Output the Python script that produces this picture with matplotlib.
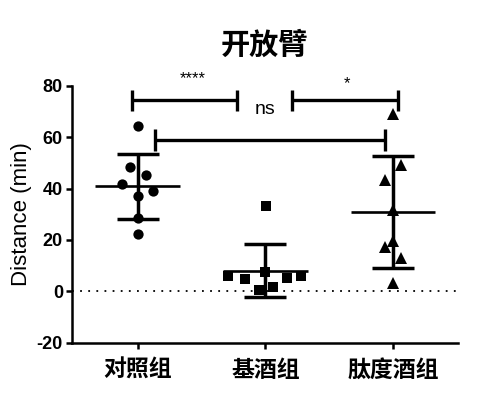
import numpy as np
import matplotlib
matplotlib.use('Agg')
import matplotlib.pyplot as plt

# data (Distance in min, 8 animals per group)
groups = ['对照组', '基酒组', '肽度酒组']
control = [64.2, 48.4, 45.1, 41.9, 39.0, 37.2, 28.7, 22.4]
base_wine = [33.1, 6.0, 4.7, 7.5, 5.3, 6.0, 0.4, 1.7]
peptide_wine = [68.9, 49.0, 43.5, 31.5, 19.6, 17.2, 13.1, 3.2]
yticks = [-20, 0, 20, 40, 60, 80]
sig_labels = ['****', 'ns', '*']

# layout: horizontal spread of the dots inside each group (scatter dot plot)
ctrl_dx = [0, -0.062, 0.062, -0.12, 0.123, 0, 0, 0]
base_dx = [0.005, -0.29, -0.16, 0, 0.17, 0.28, -0.052, 0.057]
pep_dx = [0, 0.06, -0.06, 0, 0, -0.06, 0.06, 0]

# brackets: x start, x end, y
brackets = [(-0.04, 0.78, 74.3), (0.14, 1.94, 58.8), (1.21, 2.04, 74.3)]
label_pos = [(0.43, 80.0, 12), (1.0, 67.5, 14), (1.64, 78.0, 12)]

plt.rcParams['font.family'] = ['Liberation Sans', 'Noto Sans CJK SC']

fig, ax = plt.subplots(figsize=(4.96, 4.18), dpi=100)
fig.subplots_adjust(left=0.145, right=0.923, bottom=0.180, top=0.795)

ax.axhline(0, color='black', lw=1.3, ls=(0, (1, 3.5)), zorder=0)

series = [(control, ctrl_dx, 'o', 7.4), (base_wine, base_dx, 's', 7.0), (peptide_wine, pep_dx, '^', 8.2)]
for i, (vals, dx, m, ms) in enumerate(series):
    vals = np.array(vals)
    ax.plot(i + np.array(dx), vals, ls='none', marker=m, ms=ms, color='black',
            markeredgewidth=0, zorder=3)
    mean = vals.mean()
    sd = vals.std(ddof=1)
    ax.errorbar(i, mean, yerr=sd, fmt='none', ecolor='black', elinewidth=2.5,
                capsize=15, capthick=2.5, zorder=2)
    ax.hlines(mean, i - 0.33, i + 0.33, color='black', lw=1.9, zorder=2)

# significance brackets
for x0, x1, y in brackets:
    ax.plot([x0, x1], [y, y], color='black', lw=2.4, clip_on=False, solid_capstyle='butt')
    for x in (x0, x1):
        ax.plot([x, x], [y - 4.2, y + 4.2], color='black', lw=2.4, clip_on=False,
                solid_capstyle='butt')
for lab, (x, y, fs) in zip(sig_labels, label_pos):
    ax.text(x, y, lab, ha='center', va='bottom', fontsize=fs, clip_on=False)

ax.set_xlim(-0.514, 2.506)
ax.set_ylim(-20, 80)
ax.set_yticks(yticks)
ax.set_yticklabels([str(t) for t in yticks], fontweight='bold', fontsize=13)
ax.set_xticks(range(len(groups)))
ax.set_xticklabels(groups, fontfamily='Noto Sans CJK SC', fontweight='bold', fontsize=16.5)
ax.tick_params(axis='both', direction='out', length=4.5, width=1.8)
ax.tick_params(axis='x', pad=7)
ax.tick_params(axis='y', pad=2)

for s in ['top', 'right']:
    ax.spines[s].set_visible(False)
for s in ['left', 'bottom']:
    ax.spines[s].set_linewidth(1.8)

ax.set_ylabel('Distance (min)', fontsize=16, labelpad=3)
ax.text(0.5, 1.158, '开放臂', transform=ax.transAxes, ha='center', va='center',
        fontsize=21, fontweight='bold', fontfamily='Noto Sans CJK SC')

plt.savefig('out.png', dpi=100)
